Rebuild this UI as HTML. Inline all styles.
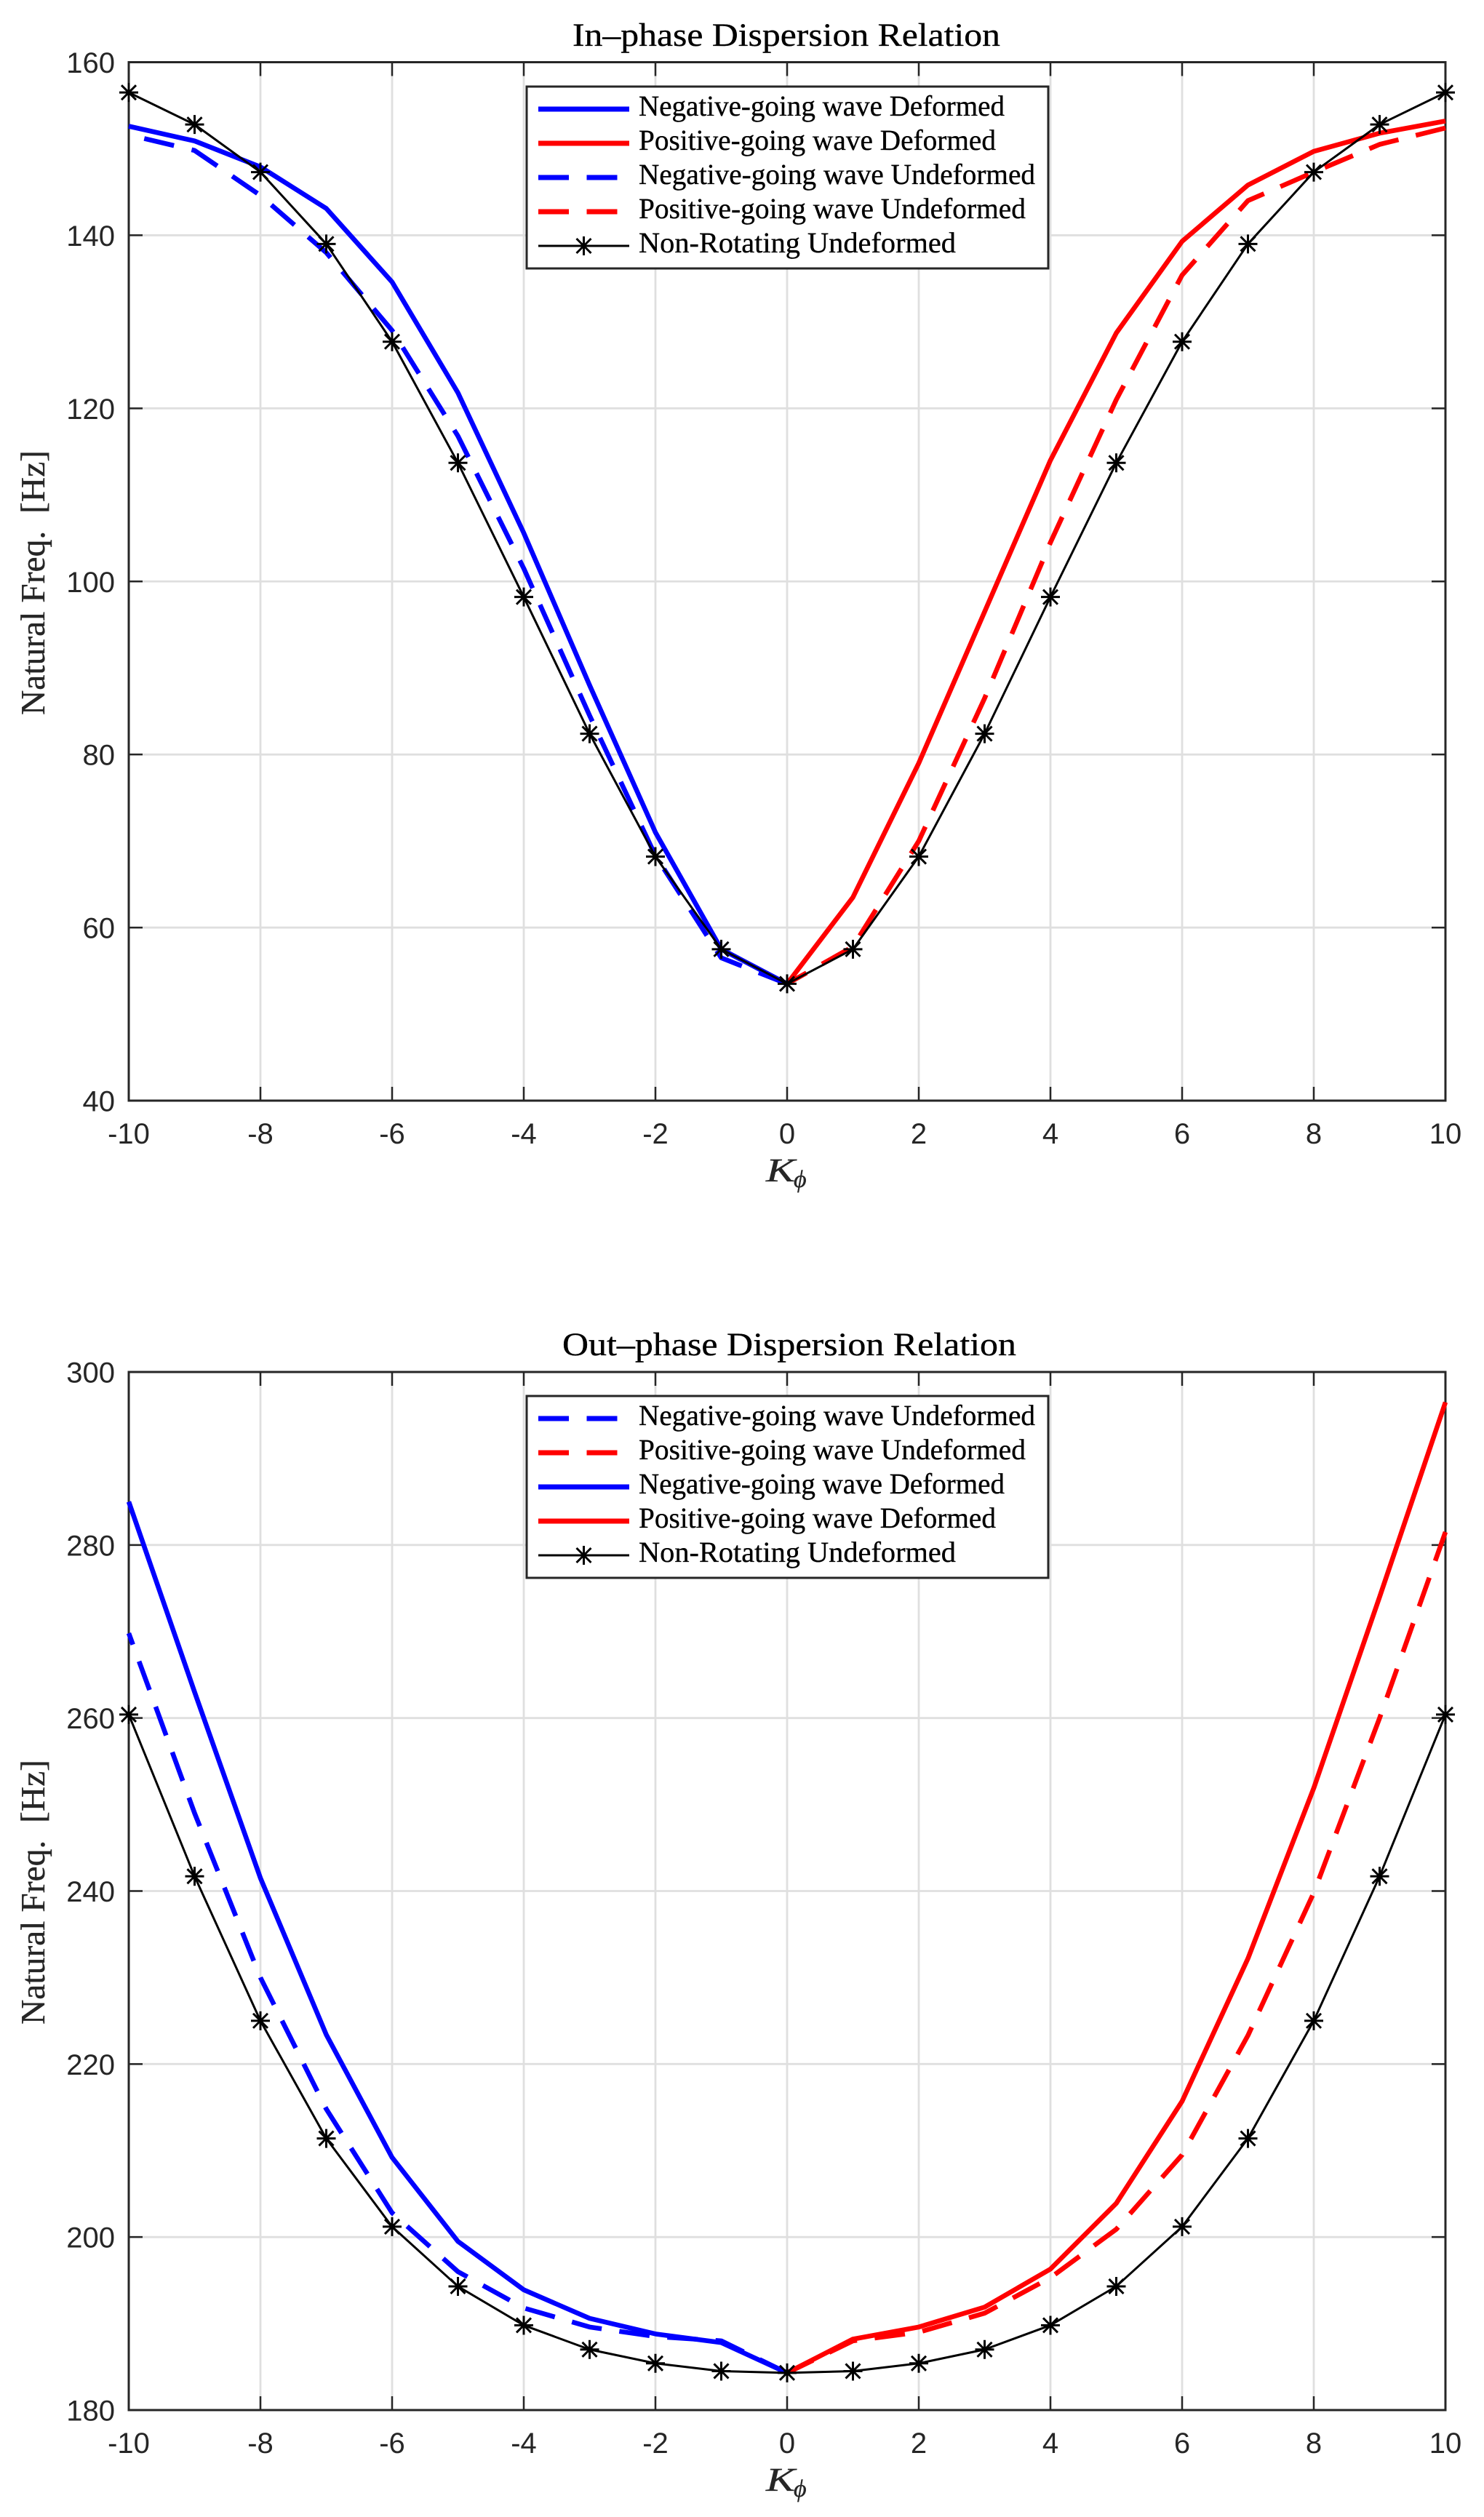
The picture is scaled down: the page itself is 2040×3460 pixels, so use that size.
<!DOCTYPE html>
<html lang="en">
<head>
<meta charset="utf-8">
<title>Dispersion Relations</title>
<style>
html,body{margin:0;padding:0;background:#fff;width:2040px;height:3460px;overflow:hidden}
svg{display:block}
.serif{font-family:"Liberation Serif",serif}
.sans{font-family:"Liberation Sans",sans-serif}
.ttl{font-size:45px;fill:#000;stroke:#000;stroke-width:.35px}
.lbl{font-size:47px;fill:#262626;stroke:#262626;stroke-width:.35px}
.leg{font-size:40px;fill:#000;stroke:#000;stroke-width:.35px}
.tick{font-size:40px;fill:#262626}
</style>
</head>
<body>
<svg id="figure" xmlns="http://www.w3.org/2000/svg" width="2040" height="3460" viewBox="0 0 2040 3460" text-rendering="geometricPrecision">
  <rect x="0" y="0" width="2040" height="3460" fill="#fff"/>

  <g id="plot-top"></g>
  <g id="plot-bottom"></g>

  <g>
    <text class="serif ttl" x="787" y="63" textLength="588" lengthAdjust="spacingAndGlyphs">In–phase Dispersion Relation</text>
    <text class="serif lbl" transform="translate(61,983) rotate(-90)" textLength="364" lengthAdjust="spacingAndGlyphs">Natural Freq.&#160; [Hz]</text>
    <text class="serif lbl" x="1053" y="1624" style="font-size:46px;font-style:italic" textLength="40" lengthAdjust="spacingAndGlyphs">K</text>
    <text class="serif lbl" x="1091" y="1632" style="font-size:34px;font-style:italic">ϕ</text>
    <g>
      <rect x="724" y="119" width="717" height="250" fill="#fff" stroke="#262626" stroke-width="3"/>
      <line x1="740" x2="865" y1="150" y2="150" stroke="#0000ff" stroke-width="7"/>
      <text class="serif leg" x="878" y="159" textLength="503" lengthAdjust="spacingAndGlyphs">Negative-going wave Deformed</text>
      <line x1="740" x2="865" y1="197" y2="197" stroke="#ff0000" stroke-width="7"/>
      <text class="serif leg" x="878" y="206" textLength="491" lengthAdjust="spacingAndGlyphs">Positive-going wave Deformed</text>
      <line x1="740" x2="849" y1="244" y2="244" stroke="#0000ff" stroke-width="7" stroke-dasharray="42 24.5"/>
      <text class="serif leg" x="878" y="253" textLength="545" lengthAdjust="spacingAndGlyphs">Negative-going wave Undeformed</text>
      <line x1="740" x2="849" y1="291" y2="291" stroke="#ff0000" stroke-width="7" stroke-dasharray="42 24.5"/>
      <text class="serif leg" x="878" y="300" textLength="532" lengthAdjust="spacingAndGlyphs">Positive-going wave Undeformed</text>
      <line x1="740" x2="865" y1="338" y2="338" stroke="#000" stroke-width="3"/>
      <path d="M802.5 325V351M792.5 328L812.5 348M792.5 348L812.5 328" stroke="#000" stroke-width="3" fill="none"/>
      <text class="serif leg" x="878" y="347" textLength="436" lengthAdjust="spacingAndGlyphs">Non-Rotating Undeformed</text>
    </g>
  </g>

  <g transform="translate(0,1800)">
    <text class="serif ttl" x="773" y="63" textLength="624" lengthAdjust="spacingAndGlyphs">Out–phase Dispersion Relation</text>
    <text class="serif lbl" transform="translate(61,983) rotate(-90)" textLength="364" lengthAdjust="spacingAndGlyphs">Natural Freq.&#160; [Hz]</text>
    <text class="serif lbl" x="1053" y="1624" style="font-size:46px;font-style:italic" textLength="40" lengthAdjust="spacingAndGlyphs">K</text>
    <text class="serif lbl" x="1091" y="1632" style="font-size:34px;font-style:italic">ϕ</text>
    <g>
      <rect x="724" y="119" width="717" height="250" fill="#fff" stroke="#262626" stroke-width="3"/>
      <line x1="740" x2="849" y1="150" y2="150" stroke="#0000ff" stroke-width="7" stroke-dasharray="42 24.5"/>
      <text class="serif leg" x="878" y="159" textLength="545" lengthAdjust="spacingAndGlyphs">Negative-going wave Undeformed</text>
      <line x1="740" x2="849" y1="197" y2="197" stroke="#ff0000" stroke-width="7" stroke-dasharray="42 24.5"/>
      <text class="serif leg" x="878" y="206" textLength="532" lengthAdjust="spacingAndGlyphs">Positive-going wave Undeformed</text>
      <line x1="740" x2="865" y1="244" y2="244" stroke="#0000ff" stroke-width="7"/>
      <text class="serif leg" x="878" y="253" textLength="503" lengthAdjust="spacingAndGlyphs">Negative-going wave Deformed</text>
      <line x1="740" x2="865" y1="291" y2="291" stroke="#ff0000" stroke-width="7"/>
      <text class="serif leg" x="878" y="300" textLength="491" lengthAdjust="spacingAndGlyphs">Positive-going wave Deformed</text>
      <line x1="740" x2="865" y1="338" y2="338" stroke="#000" stroke-width="3"/>
      <path d="M802.5 325V351M792.5 328L812.5 348M792.5 348L812.5 328" stroke="#000" stroke-width="3" fill="none"/>
      <text class="serif leg" x="878" y="347" textLength="436" lengthAdjust="spacingAndGlyphs">Non-Rotating Undeformed</text>
    </g>
  </g>
</svg>

<script>
// Shared wavenumber categories (order follows each curve's drawing direction)
const kNegative = [0, -1, -2, -3, -4, -5, -6, -7, -8, -9, -10];
const kPositive = [10, 9, 8, 7, 6, 5, 4, 3, 2, 1, 0];
const kAll = [-10, -9, -8, -7, -6, -5, -4, -3, -2, -1, 0, 1, 2, 3, 4, 5, 6, 7, 8, 9, 10];
const xTickValues = [-10, -8, -6, -4, -2, 0, 2, 4, 6, 8, 10];

// In-phase plot values [Hz]
const inPhaseYTicks = [40, 60, 80, 100, 120, 140, 160];
const inNegDeformed = [53.5, 57.5, 71, 88, 105.6, 121.8, 134.6, 143.1, 147.9, 150.9, 152.6];
const inPosDeformed = [153.2, 151.8, 149.7, 145.8, 139.3, 128.7, 114, 96.5, 79, 63.5, 53.5];
const inNegUndeformed = [53.5, 56.5, 68.3, 84.5, 101.5, 116.8, 129, 138, 144.6, 149.8, 151.6];
const inPosUndeformed = [152.4, 150.5, 147.3, 144, 135.4, 121, 104.5, 86.5, 70, 57.8, 53.5];
const inNonRotating = [156.5, 152.8, 147.3, 139, 127.7, 113.7, 98.2, 82.4, 68.2, 57.5, 53.5, 57.5, 68.2, 82.4, 98.2, 113.7, 127.7, 139, 147.3, 152.8, 156.5];

// Out-phase plot values [Hz]
const outPhaseYTicks = [180, 200, 220, 240, 260, 280, 300];
const outNegUndeformed = [184.3, 188, 188.5, 189.6, 191.8, 196, 202.8, 214.8, 230, 249, 269.8];
const outPosUndeformed = [281.5, 260, 239.8, 223.3, 209.5, 200.9, 195.3, 191.2, 189, 188, 184.3];
const outNegDeformed = [184.3, 187.8, 188.8, 190.6, 193.9, 199.5, 209.2, 223.4, 241.5, 263, 285];
const outPosDeformed = [296.5, 274, 251.9, 232.2, 215.7, 203.9, 196.3, 191.9, 189.6, 188.2, 184.3];
const outNonRotating = [260.4, 241.7, 225, 211.4, 201.2, 194.3, 189.8, 187, 185.4, 184.5, 184.3, 184.5, 185.4, 187, 189.8, 194.3, 201.2, 211.4, 225, 241.7, 260.4];

const SVG_NS = 'http://www.w3.org/2000/svg';
const PLOT_LEFT = 177, PLOT_RIGHT = 1987;
const TICK_LEN = 19;
const INK = '#262626', GRID = '#dfdfdf';

function make(parent, tag, attrs, text) {
  const el = document.createElementNS(SVG_NS, tag);
  for (const key in attrs) el.setAttribute(key, attrs[key]);
  if (text !== undefined) el.textContent = text;
  parent.appendChild(el);
  return el;
}

function drawAxes(root, top, bottom, xMin, xMax, yMin, yMax, yTicks, prefix) {
  const sx = v => PLOT_LEFT + (v - xMin) / (xMax - xMin) * (PLOT_RIGHT - PLOT_LEFT);
  const sy = v => bottom - (v - yMin) / (yMax - yMin) * (bottom - top);

  xTickValues.forEach(v => {
    if (v === xMin || v === xMax) return;
    const el = make(root, 'line', {x1: sx(v), x2: sx(v), y1: top, y2: bottom, stroke: GRID, 'stroke-width': 2.8});
    
    
  });
  yTicks.forEach(v => {
    if (v === yMin || v === yMax) return;
    const el = make(root, 'line', {x1: PLOT_LEFT, x2: PLOT_RIGHT, y1: sy(v), y2: sy(v), stroke: GRID, 'stroke-width': 2.8});
    
    
  });

  const frame = make(root, 'rect', {x: PLOT_LEFT, y: top, width: PLOT_RIGHT - PLOT_LEFT, height: bottom - top, fill: 'none', stroke: INK, 'stroke-width': 3});
  
  

  xTickValues.forEach(v => {
    const d = `M${sx(v)} ${bottom}V${bottom - TICK_LEN}M${sx(v)} ${top}V${top + TICK_LEN}`;
    const mark = make(root, 'path', {d: d, stroke: INK, 'stroke-width': 2.5, fill: 'none'});
    
    
    const label = make(root, 'text', {class: 'sans tick', x: sx(v), y: bottom + 59, 'text-anchor': 'middle'}, String(v));
    
    
  });
  yTicks.forEach(v => {
    const d = `M${PLOT_LEFT} ${sy(v)}H${PLOT_LEFT + TICK_LEN}M${PLOT_RIGHT} ${sy(v)}H${PLOT_RIGHT - TICK_LEN}`;
    const mark = make(root, 'path', {d: d, stroke: INK, 'stroke-width': 2.5, fill: 'none'});
    
    
    const label = make(root, 'text', {class: 'sans tick', x: 158, y: sy(v) + 14.5, 'text-anchor': 'end'}, String(v));
    
    
  });
  return {sx: sx, sy: sy};
}

function drawSeries(root, scales, xs, ys, color, dash, name) {
  const d = xs.map((x, i) => (i ? 'L' : 'M') + scales.sx(x).toFixed(2) + ' ' + scales.sy(ys[i]).toFixed(2)).join('');
  const attrs = {d: d, fill: 'none', stroke: color, 'stroke-width': 6.6, 'stroke-linejoin': 'round'};
  if (dash) attrs['stroke-dasharray'] = dash;
  const el = make(root, 'path', attrs);
  
  
}

function drawNonRotating(root, scales, xs, ys) {
  const d = xs.map((x, i) => (i ? 'L' : 'M') + scales.sx(x).toFixed(2) + ' ' + scales.sy(ys[i]).toFixed(2)).join('');
  const line = make(root, 'path', {d: d, fill: 'none', stroke: '#000', 'stroke-width': 3, 'stroke-linejoin': 'round'});
  
  
  xs.forEach((x, i) => {
    const cx = scales.sx(x), cy = scales.sy(ys[i]);
    const arm = 13, diag = 10;
    const star = `M${cx - arm} ${cy}H${cx + arm}M${cx} ${cy - arm}V${cy + arm}` +
      `M${cx - diag} ${cy - diag}L${cx + diag} ${cy + diag}M${cx - diag} ${cy + diag}L${cx + diag} ${cy - diag}`;
    const marker = make(root, 'path', {d: star, fill: 'none', stroke: '#000', 'stroke-width': 3});
    
    
  });
}

const DASH = '42 24.5';
const DASH_LONG_GAP = '42 24.9';

const topRoot = document.getElementById('plot-top');
const topScales = drawAxes(topRoot, 85.5, 1513, -10, 10, 40, 160, inPhaseYTicks, 'in-phase');
drawSeries(topRoot, topScales, kNegative, inNegDeformed, '#0000ff', null, 'negative-going-deformed-line');
drawSeries(topRoot, topScales, kPositive, inPosDeformed, '#ff0000', null, 'positive-going-deformed-line');
drawSeries(topRoot, topScales, kNegative, inNegUndeformed, '#0000ff', DASH_LONG_GAP, 'negative-going-undeformed-line');
drawSeries(topRoot, topScales, kPositive, inPosUndeformed, '#ff0000', DASH, 'positive-going-undeformed-line');
drawNonRotating(topRoot, topScales, kAll, inNonRotating);

const bottomRoot = document.getElementById('plot-bottom');
const bottomScales = drawAxes(bottomRoot, 1886, 3313, -10, 10, 180, 300, outPhaseYTicks, 'out-phase');
drawSeries(bottomRoot, bottomScales, kNegative, outNegUndeformed, '#0000ff', DASH, 'negative-going-undeformed-line');
drawSeries(bottomRoot, bottomScales, kPositive, outPosUndeformed, '#ff0000', DASH, 'positive-going-undeformed-line');
drawSeries(bottomRoot, bottomScales, kNegative, outNegDeformed, '#0000ff', null, 'negative-going-deformed-line');
drawSeries(bottomRoot, bottomScales, kPositive, outPosDeformed, '#ff0000', null, 'positive-going-deformed-line');
drawNonRotating(bottomRoot, bottomScales, kAll, outNonRotating);
</script>
</body>
</html>
